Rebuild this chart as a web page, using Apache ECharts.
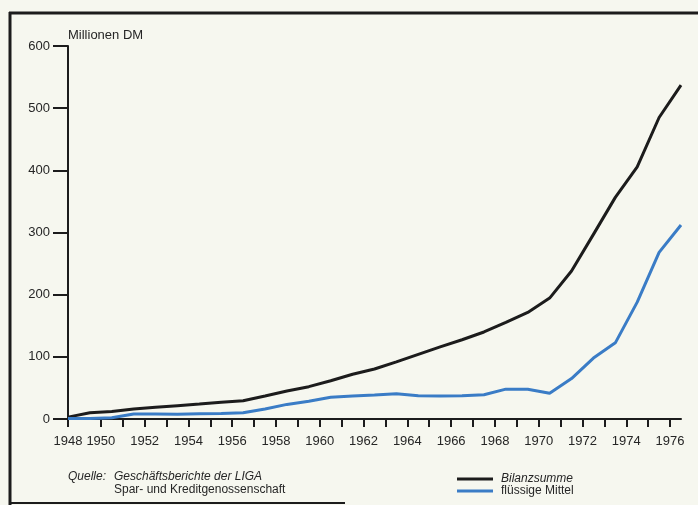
<!DOCTYPE html>
<html>
<head>
<meta charset="utf-8">
<script src="https://cdn.jsdelivr.net/npm/echarts@6/dist/echarts.min.js"></script>
<style>
  html, body { margin: 0; padding: 0; background: #f6f7ef; }
  #chart { width: 698px; height: 505px; }
</style>
</head>
<body>
<div id="chart"></div>
<script>
// ---- data (Millionen DM), one value per year ----
const years = [1948, 1949, 1950, 1951, 1952, 1953, 1954, 1955, 1956, 1957,
               1958, 1959, 1960, 1961, 1962, 1963, 1964, 1965, 1966, 1967,
               1968, 1969, 1970, 1971, 1972, 1973, 1974, 1975, 1976];
const bilanzsumme = [3, 10, 12, 16, 19, 21.5, 24, 27, 29.5, 37,
                     45, 52, 61.5, 72, 80.5, 92, 104, 116, 127.5, 140,
                     155.5, 171.5, 194.5, 238, 297, 356.5, 405.5, 485, 537];
const fluessigeMittel = [1, 1, 2, 8, 8, 7.5, 8.3, 9, 10, 16,
                         23.5, 28.5, 35, 37, 38.5, 40.5, 37.5, 37, 37.5, 39,
                         48, 48, 41.5, 65, 98, 122.5, 188, 268, 312];
// ---- axis ticks / labels ----
const tickYears  = [1948, 1950, 1951, 1952, 1953, 1954, 1955, 1956, 1957, 1958, 1959,
                    1960, 1961, 1962, 1963, 1964, 1965, 1966, 1967, 1968, 1969,
                    1970, 1971, 1972, 1973, 1974, 1975, 1976];
const labelYears = [1948, 1950, 1952, 1954, 1956, 1958, 1960, 1962, 1964, 1966,
                    1968, 1970, 1972, 1974, 1976];
const yTicks = [0, 100, 200, 300, 400, 500, 600];
const seriesNames = ['Bilanzsumme', 'flüssige Mittel'];
const unitLabel = 'Millionen DM';
const sourceLines = ['Quelle:', 'Geschäftsberichte der LIGA', 'Spar- und Kreditgenossenschaft'];

// In the original drawing the year ticks sit half a year before the data points,
// except the first one, which marks the origin.
function tickPos(y) { return y === years[0] ? y : y - 0.5; }
function tickLabel(v) { return v === years[0] ? String(v) : String(Math.round(v + 0.5)); }

const FONT = '"Liberation Sans", Arial, Helvetica, sans-serif';
const INK = '#1c1c1c';
const TEXT = '#262626';
const BLUE = '#3a7cc6';

const chart = echarts.init(document.getElementById('chart'), null, { renderer: 'canvas' });
chart.setOption({
  backgroundColor: '#f6f7ef',
  animation: false,
  textStyle: { fontFamily: FONT, color: TEXT },
  grid: { left: 68, right: 17, top: 46, bottom: 86 },
  xAxis: {
    type: 'value',
    min: years[0],
    max: years[years.length - 1],
    splitLine: { show: false },
    axisLine: { lineStyle: { color: INK, width: 2 } },
    axisTick: {
      customValues: tickYears.map(tickPos),
      length: 8,
      lineStyle: { color: INK, width: 2 }
    },
    axisLabel: {
      customValues: labelYears.map(tickPos),
      formatter: tickLabel,
      margin: 16,
      fontSize: 13,
      fontFamily: FONT,
      color: TEXT
    }
  },
  yAxis: {
    type: 'value',
    min: 0,
    max: 600,
    interval: 100,
    name: unitLabel,
    nameLocation: 'end',
    nameGap: 11,
    nameTextStyle: { align: 'left', verticalAlign: 'middle', fontSize: 13, fontFamily: FONT, color: TEXT },
    splitLine: { show: false },
    axisLine: { show: true, lineStyle: { color: INK, width: 2 } },
    axisTick: { show: true, length: 15, lineStyle: { color: INK, width: 2 },
                customValues: yTicks },
    axisLabel: { margin: 18, fontSize: 13, fontFamily: FONT, color: TEXT,
                 customValues: yTicks }
  },
  legend: {
    left: 452,
    top: 468,
    orient: 'vertical',
    itemGap: 0,
    itemWidth: 36,
    itemHeight: 3,
    icon: 'rect',
    textStyle: { fontSize: 12, fontFamily: FONT, color: TEXT, padding: [0, 0, 0, 3] },
    data: [
      { name: seriesNames[0], textStyle: { fontStyle: 'italic' } },
      { name: seriesNames[1] }
    ]
  },
  series: [
    {
      name: seriesNames[0],
      type: 'line',
      data: years.map((y, i) => [y, bilanzsumme[i]]),
      showSymbol: false,
      color: INK,
      lineStyle: { color: INK, width: 3 },
      z: 3
    },
    {
      name: seriesNames[1],
      type: 'line',
      data: years.map((y, i) => [y, fluessigeMittel[i]]),
      showSymbol: false,
      color: BLUE,
      lineStyle: { color: BLUE, width: 3 },
      z: 4
    }
  ],
  graphic: [
    { type: 'line', shape: { x1: 10, y1: 12, x2: 10, y2: 505 }, style: { stroke: INK, lineWidth: 3 } },
    { type: 'line', shape: { x1: 9, y1: 13, x2: 698, y2: 13 }, style: { stroke: INK, lineWidth: 3 } },
    { type: 'line', shape: { x1: 9, y1: 503, x2: 345, y2: 503 }, style: { stroke: INK, lineWidth: 2 } },
    { type: 'text', left: 68, top: 471,
      style: { text: sourceLines[0], font: 'italic 12px ' + FONT, fill: TEXT } },
    { type: 'text', left: 114, top: 471,
      style: { text: sourceLines[1], font: 'italic 12px ' + FONT, fill: TEXT } },
    { type: 'text', left: 114, top: 484,
      style: { text: sourceLines[2], font: '12px ' + FONT, fill: TEXT } }
  ]
});
</script>
</body>
</html>
